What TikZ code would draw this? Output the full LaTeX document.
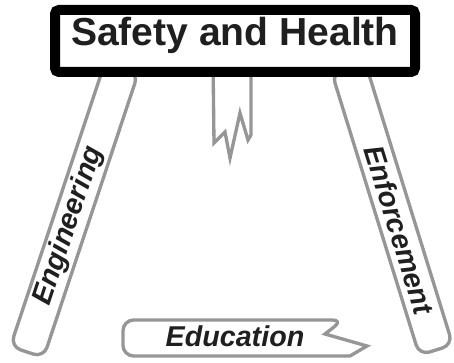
\documentclass[tikz,border=0pt]{standalone}
\usepackage{fontspec}
\setmainfont{Liberation Sans}
\definecolor{legGray}{RGB}{150,150,150}
\tikzset{every picture/.style={line width=0.75pt}}
\tikzset{
  legbar/.style={draw=legGray, line width=2.5pt, fill=white, line join=miter},
  legtext/.style={font=\fontsize{21.5}{24}\selectfont\bfseries\itshape, inner sep=0pt, text=black!88},
  titlebox/.style={draw=black, line width=7.5pt, fill=white, rounded corners=3pt, minimum width=270pt, minimum height=46.5pt, inner sep=0pt, font=\fontsize{29.3}{32}\selectfont\bfseries, text=black!88, text height=0.72em, text depth=0.1em}
}

\begin{document}
\begin{tikzpicture}[x=0.75pt,y=0.75pt,yscale=-1,xscale=1]
\useasboundingbox (0,0) rectangle (454,363);

%Shape: Rounded Rectangle [id:engineering leg]
\draw [legbar, rounded corners=8pt] (105.1,62) -- (138.3,73) -- (43.6,357.5) -- (10.4,346.5) -- cycle ;
%Shape: Rounded Rectangle [id:enforcement leg]
\draw [legbar, rounded corners=8pt] (331.8,72.7) -- (365.2,62.3) -- (452.7,344.8) -- (419.3,355.2) -- cycle ;
%Shape: Polygon [id:broken leg]
\draw [legbar] (213,60) -- (214,143) -- (225,132) -- (230,158) -- (240,113) -- (248,140) -- (251,135) -- (251,60) ;
%Shape: Polygon [id:education bar]
\draw [legbar] (350,356) [rounded corners=8pt] -- (123,356) -- (123,320) -- (343,320) [sharp corners] -- (325,334) -- (367,346) -- cycle ;

%Shape: Rounded Rectangle [id:title box]
\node [titlebox] (title) at (235,41) {Safety and Health};

% Text Node
\node [legtext, rotate=71.6] (engText) at (68.9,226) {Engineering};
% Text Node
\node [legtext, rotate=-72.7] (enfText) at (399.2,230) {Enforcement};
% Text Node
\node [legtext, anchor=base] (eduText) at (235,347) {Education};

\end{tikzpicture}
\end{document}
